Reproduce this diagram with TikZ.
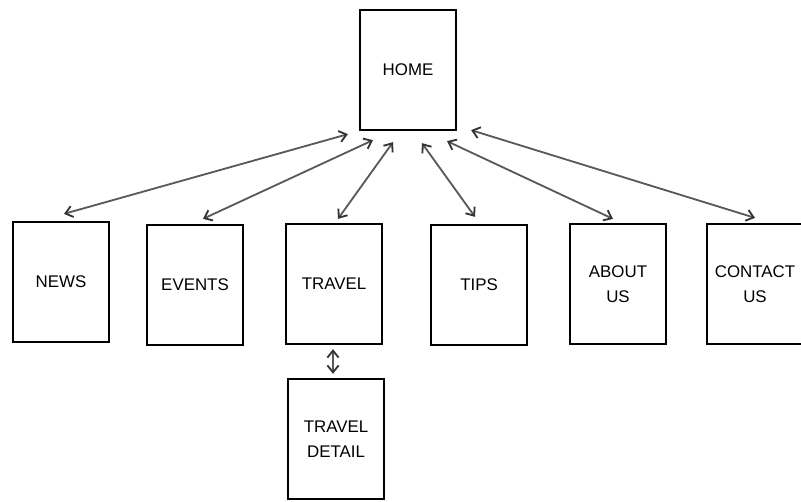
\documentclass[tikz,border=0pt]{standalone}
\usepackage{fontspec}
\setmainfont{Liberation Sans}
\usepackage{tikz}
\usetikzlibrary{arrows.meta,calc}

\begin{document}
\begin{tikzpicture}[x=0.025cm,y=-0.025cm,
    page/.style={draw,line width=1.6pt,minimum width=2.4cm,minimum height=3cm,
        inner sep=0pt,align=center,font=\fontsize{12}{18}\selectfont},
    link/.style={draw=black!65,line width=1.3pt,
        {Straight Barb[length=5pt,width=8pt,color=black!80]}-{Straight Barb[length=5pt,width=8pt,color=black!80]}}]
\useasboundingbox (0,0) rectangle (801,501);

\node[page] (home) at (408,70) {HOME};

\node[page] (news) at (61,282) {NEWS};
\node[page] (events) at (195,285) {EVENTS};
\node[page] (travel) at (334,284) {TRAVEL};
\node[page] (tips) at (479,285) {TIPS};
\node[page] (about) at (618,284) {ABOUT\\US};
\node[page] (contact) at (755,284) {CONTACT\\US};

\node[page] (detail) at (336,439) {TRAVEL\\DETAIL};

\draw[link] ($(news.north)+(3,-7)$) -- ($(home.south west)+(-11,3)$);
\draw[link] ($(events.north)+(8,-5)$) -- ($(home.south)+(-35,9)$);
\draw[link] ($(travel.north)+(4,-4)$) -- ($(home.south)+(-15,11)$);
\draw[link] ($(tips.north)+(-4,-7)$) -- ($(home.south)+(14,12)$);
\draw[link] ($(about.north)+(-5,-4)$) -- ($(home.south)+(39,10)$);
\draw[link] ($(contact.north)+(0,-5)$) -- ($(home.south east)+(14,-1)$);

\draw[link] ($(travel.south)+(-1,4)$) -- ($(travel.south |- detail.north)+(-1,-4)$);
\end{tikzpicture}
\end{document}
